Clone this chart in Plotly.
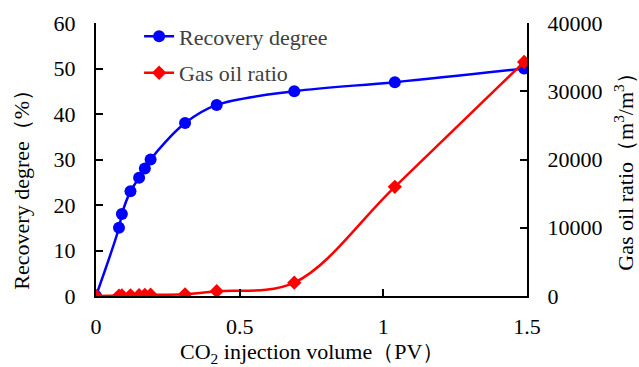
import plotly.graph_objects as go

# CO2 injection volume (PV)
injection_pv = [0, 0.08, 0.09, 0.12, 0.15, 0.17, 0.19, 0.31, 0.42, 0.69, 1.04, 1.49]
# Recovery degree (%)
recovery_degree = [0, 15, 18, 23, 26, 28, 30, 38, 42, 45, 47, 50]
# Gas oil ratio (m3/m3)
gas_oil_ratio = [0, 60, 80, 100, 120, 150, 180, 250, 700, 1950, 16000, 34300]

x_ticks = [0, 0.5, 1, 1.5]
x_tick_text = ["0", "0.5", "1", "1.5"]
y1_ticks = [0, 10, 20, 30, 40, 50, 60]
y1_tick_text = ["0", "10", "20", "30", "40", "50", "60"]
y2_ticks = [0, 10000, 20000, 30000, 40000]
y2_tick_text = ["0", "10000", "20000", "30000", "40000"]

FONT = "Liberation Serif"

fig = go.Figure()
fig.add_trace(go.Scatter(
    x=injection_pv, y=recovery_degree, name="Recovery degree",
    mode="lines+markers", yaxis="y", legendgroup="rd",
    line=dict(color="#0000ff", width=2.5, shape="spline", smoothing=1),
    marker=dict(symbol="circle", size=12, color="#0000ff"),
))
fig.add_trace(go.Scatter(
    x=injection_pv, y=gas_oil_ratio, name="Gas oil ratio",
    mode="lines+markers", yaxis="y2", legendgroup="gor",
    line=dict(color="#ff0000", width=2.5, shape="spline", smoothing=1),
    marker=dict(symbol="diamond", size=11, color="#ff0000"),
))

axis_common = dict(
    showline=True, linecolor="black", linewidth=2,
    ticks="inside", ticklen=7, tickwidth=1.5, tickcolor="black",
    showgrid=False, zeroline=False,
    tickfont=dict(family=FONT, size=22, color="black"),
)

fig.update_layout(
    width=639, height=367,
    margin=dict(l=96, r=112, t=23, b=71),
    paper_bgcolor="white", plot_bgcolor="white",
    font=dict(family=FONT, size=22, color="black"),
    xaxis=dict(range=[0, 1.5], tickvals=x_ticks, ticktext=x_tick_text,
               ticklabelstandoff=10, **axis_common),
    yaxis=dict(range=[0, 60], tickvals=y1_ticks, ticktext=y1_tick_text,
               ticklabelstandoff=14, **axis_common),
    yaxis2=dict(range=[0, 40000], tickvals=y2_ticks, ticktext=y2_tick_text,
                overlaying="y", side="right", ticklabelstandoff=14, **axis_common),
    legend=dict(x=0.1, y=1.028, xanchor="left", yanchor="top",
                bgcolor="rgba(0,0,0,0)", tracegroupgap=5, traceorder="grouped",
                font=dict(family=FONT, size=22, color="#404040")),
    showlegend=True,
    annotations=[
        dict(text="CO<sub>2</sub> injection volume（PV）", xref="paper", yref="paper",
             x=0.5, y=-0.21, xanchor="center", yanchor="middle", showarrow=False,
             font=dict(family=FONT, size=22, color="black")),
        dict(text="Recovery degree（%）", xref="paper", yref="paper",
             x=-0.175, y=0.41, xanchor="center", yanchor="middle", showarrow=False,
             textangle=-90, font=dict(family=FONT, size=22, color="black")),
        dict(text="Gas oil ratio（m<sup>3</sup>/m<sup>3</sup>）", xref="paper", yref="paper",
             x=1.226, y=0.475, xanchor="center", yanchor="middle", showarrow=False,
             textangle=-90, font=dict(family=FONT, size=22, color="black")),
    ],
)

fig.write_html("out.html")
